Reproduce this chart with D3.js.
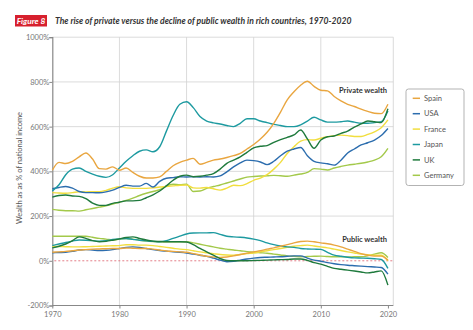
<!DOCTYPE html>
<html><head><meta charset="utf-8">
<script src="https://cdn.jsdelivr.net/npm/d3@7"></script>
<style>
html,body{margin:0;padding:0;background:#fff;}
svg{display:block;font-family:Lato,"Open Sans",sans-serif;}
</style></head>
<body><svg id="c" width="473" height="330"></svg>
<script>
const years = d3.range(1970, 2021);
const countries = ["Spain","USA","France","Japan","UK","Germany"];
const colors = ["#E9A640","#2C6DAE","#F1DE3F","#1D9AA0","#1F7A3D","#A3C94A"];
const xTicks = [1970,1980,1990,2000,2010,2020];
const yTicks = [-200,0,200,400,600,800,1000];

// Private wealth (% of national income)
const privSpain = [405,440,435,445,465,482,455,412,410,420,405,415,395,378,370,370,375,400,425,440,450,458,432,440,450,455,462,470,480,500,520,545,575,615,665,720,756,785,803,780,763,760,735,715,700,690,678,668,660,658,700];
const privUSA = [322,328,332,325,310,305,305,304,308,316,328,338,334,334,346,330,355,369,372,376,375,376,375,376,375,380,398,420,438,450,448,442,430,445,470,490,500,507,470,445,438,434,428,450,482,500,518,528,540,560,592];
const privFrance = [305,303,302,305,309,308,309,309,315,325,331,326,324,324,324,326,330,332,335,338,339,326,325,328,322,316,325,338,336,345,360,370,385,410,440,480,510,535,542,540,548,555,560,562,560,556,556,565,577,595,630];
const privJapan = [312,340,385,410,415,400,388,378,373,385,415,445,470,490,496,488,510,580,650,700,711,685,645,625,617,612,605,600,615,635,635,625,618,610,605,600,600,608,625,642,630,620,620,622,625,620,615,615,618,622,670];
const privUK = [285,292,294,290,288,278,258,248,248,257,262,268,268,270,282,295,312,335,360,378,383,376,378,383,390,410,436,450,465,485,505,512,515,530,542,552,563,585,545,503,540,555,558,570,580,598,612,625,622,618,680];
const privGermany = [230,226,224,224,222,228,234,240,246,254,262,270,280,292,302,310,318,335,342,340,343,310,312,324,332,339,348,357,366,374,377,379,380,382,380,378,383,388,395,412,410,406,415,422,428,432,436,442,450,465,503];

// Public wealth (% of national income)
const pubSpain = [38,40,42,45,48,50,52,53,54,55,55,57,56,55,55,52,48,44,42,40,38,32,26,20,17,15,17,22,28,34,40,45,52,58,65,72,80,86,88,85,80,76,70,62,52,42,32,25,21,21,3];
const pubUSA = [36,37,38,42,48,50,48,46,47,50,55,60,62,60,55,50,46,43,40,38,35,30,25,20,12,3,-4,-2,3,8,12,15,16,17,18,20,22,22,12,3,-2,-8,-13,-17,-20,-22,-24,-26,-28,-30,-60];
const pubFrance = [65,64,63,62,62,63,64,65,66,67,68,72,72,70,70,68,64,60,56,52,50,45,40,36,32,28,26,25,28,32,35,40,45,50,55,60,65,68,70,66,62,58,52,46,40,35,30,27,25,25,0];
const pubJapan = [68,75,82,88,93,92,90,88,90,95,98,100,96,92,89,87,85,90,100,110,120,124,125,125,126,118,110,107,105,102,97,90,80,72,66,62,60,55,53,52,51,38,25,20,16,13,12,11,9,6,-34];
const pubUK = [58,65,75,90,107,100,90,85,87,92,98,104,107,100,93,88,86,85,85,85,84,72,55,40,25,10,1,0,0,0,1,2,3,4,5,6,8,8,2,-8,-15,-25,-34,-38,-42,-46,-50,-54,-50,-45,-109];
const pubGermany = [110,110,110,110,110,110,105,100,97,93,97,100,97,92,88,86,85,85,85,85,85,80,74,68,62,56,52,48,45,41,38,36,34,30,26,22,20,18,19,20,21,19,18,18,17,18,18,22,30,36,15];

const privSeries = [privSpain, privUSA, privFrance, privJapan, privUK, privGermany];
const pubSeries = [pubSpain, pubUSA, pubFrance, pubJapan, pubUK, pubGermany];

const svg = d3.select("#c");
const x = d3.scaleLinear().domain([1970, 2020.8]).range([52.3, 393.3]);
const y = d3.scaleLinear().domain([-200, 1000]).range([305.5, 37.2]);

// title
svg.append("rect").attr("x",15).attr("y",15).attr("width",32).attr("height",11.5).attr("fill","#D7202E");
svg.append("text").attr("x",31).attr("y",24).attr("text-anchor","middle").attr("fill","#fff")
  .attr("font-size",8.3).attr("font-weight","bold").attr("font-style","italic").text("Figure 8");
svg.append("text").attr("x",55).attr("y",24).attr("fill","#333")
  .attr("font-size",8.6).attr("font-weight","bold").attr("font-style","italic")
  .text("The rise of private versus the decline of public wealth in rich countries, 1970-2020");

// grid
const g = svg.append("g");
g.selectAll(".hg").data(yTicks.filter(d=>d>0)).join("line")
  .attr("x1",x(1970)).attr("x2",393.3).attr("y1",d=>y(d)).attr("y2",d=>y(d))
  .attr("stroke","#d2d2d2").attr("stroke-width",0.8);
g.selectAll(".vg").data([1980,1990,2000,2010]).join("line")
  .attr("x1",d=>x(d)).attr("x2",d=>x(d)).attr("y1",y(1000)).attr("y2",y(-200))
  .attr("stroke","#d2d2d2").attr("stroke-width",0.8);
g.append("line").attr("x1",393.3).attr("x2",393.3).attr("y1",y(1000)).attr("y2",y(-200))
  .attr("stroke","#d2d2d2").attr("stroke-width",0.8);
// zero dashed
g.append("line").attr("x1",x(1970)+2).attr("x2",393.3).attr("y1",y(0)).attr("y2",y(0))
  .attr("stroke","#E0707A").attr("stroke-width",0.9).attr("stroke-dasharray","2,2");

// axes
const yAxis = d3.axisLeft(y).tickValues(yTicks).tickSize(3).tickFormat(d=>d+"%");
const ya = svg.append("g").attr("transform",`translate(${x(1970)},0)`).call(yAxis);
ya.select(".domain").attr("stroke","#888").attr("stroke-width",1.2);
ya.selectAll(".tick line").attr("stroke","#888");
ya.selectAll(".tick text").attr("fill","#777").attr("font-size",7.5).attr("font-family","Lato,sans-serif").attr("x",-3);

const xAxis = d3.axisBottom(x).tickValues(xTicks).tickSize(3).tickFormat(d3.format("d"));
const xa = svg.append("g").attr("transform",`translate(0,${y(-200)})`).call(xAxis);
xa.select(".domain").attr("stroke","#888").attr("stroke-width",1.2).attr("d",`M${x(1970)},0H393.3`);
xa.selectAll(".tick line").attr("stroke","#888");
xa.selectAll(".tick text").attr("fill","#777").attr("font-size",7.5).attr("font-family","Lato,sans-serif").attr("y",6);

svg.append("text").attr("transform","translate(22,168) rotate(-90)").attr("text-anchor","middle")
  .attr("fill","#555").attr("font-size",7.5).text("Wealth as as % of national income");

// lines
const line = d3.line().x((d,i)=>x(years[i])).y(d=>y(d)).curve(d3.curveMonotoneX);
const lg = svg.append("g").attr("fill","none").attr("stroke-width",1.4).attr("stroke-linejoin","round");
const order = [5,2,1,3,0,4];
order.forEach(i=>{
  lg.append("path").attr("d",line(pubSeries[i])).attr("stroke",colors[i]);
});
order.forEach(i=>{
  lg.append("path").attr("d",line(privSeries[i])).attr("stroke",colors[i]);
});

svg.append("text").attr("x",387).attr("y",93).attr("text-anchor","end").attr("fill","#333")
  .attr("font-size",7.5).attr("font-weight","bold").text("Private wealth");
svg.append("text").attr("x",387).attr("y",242).attr("text-anchor","end").attr("fill","#333")
  .attr("font-size",7.5).attr("font-weight","bold").text("Public wealth");

// legend
const leg = svg.append("g");
leg.append("rect").attr("x",406).attr("y",89).attr("width",58).attr("height",96.5).attr("rx",2.5)
  .attr("fill","#fff").attr("stroke","#aaa").attr("stroke-width",0.9);
countries.forEach((c,i)=>{
  const yy = 98.3 + i*15.4;
  leg.append("line").attr("x1",412.7).attr("x2",420).attr("y1",yy).attr("y2",yy)
    .attr("stroke",colors[i]).attr("stroke-width",1.5);
  leg.append("text").attr("x",424).attr("y",yy+2.7).attr("fill","#555").attr("font-size",7.5).text(c);
});
</script></body></html>
